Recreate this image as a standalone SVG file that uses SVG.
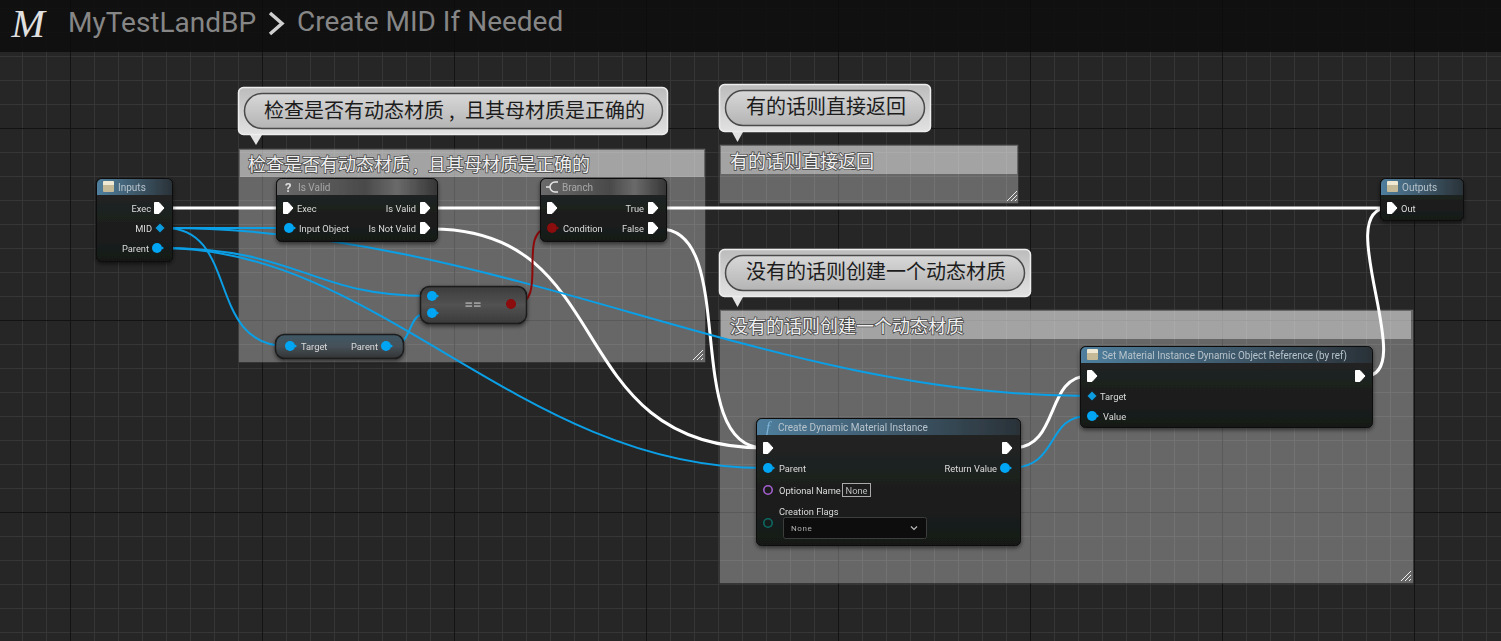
<svg xmlns="http://www.w3.org/2000/svg" width="1501" height="641" viewBox="0 0 1501 641">
<style>
text{font-family:"Roboto","Noto Sans CJK SC",sans-serif}
.t{font-size:9.3px;fill:#dcdcdc}
.e{text-anchor:end}
.h{font-size:10px;fill:#b8c4cc}
.g{font-size:10px;fill:#a8a8a8}
.body{fill:url(#nb);stroke:#0a0a0a;stroke-width:1}
.wb{fill:none;stroke:#0b9fe6;stroke-width:2}
.ww{fill:none;stroke:#fff;stroke-width:3}
.wr{fill:none;stroke:#8c0a0a;stroke-width:2}
.bub{fill:url(#bg);stroke:#ededed;stroke-width:1.5}
.tail{fill:#e2e2e2}
.pill{fill:url(#pg);stroke:#4a4a4a;stroke-width:1.5}
.bt{font-family:"Noto Sans CJK SC",sans-serif;font-size:20px;fill:#1c1c1c}
.ct{font-family:"Noto Sans CJK SC",sans-serif;font-size:18px;fill:#f0f0f0;paint-order:stroke;stroke:#444;stroke-width:1.5px}
.fr{fill:#fff;fill-opacity:.3;stroke:#1a1a1a;stroke-opacity:.35}
.fh{fill:#fff;fill-opacity:.4}
.grip{stroke:#eee;stroke-width:1;fill:none}
</style>
<defs>
<pattern id="gm" width="24" height="24" patternUnits="userSpaceOnUse" x="22" y="8"><path d="M.5 0V24M0 .5H24" stroke="#363636" stroke-width="1" fill="none"/></pattern>
<pattern id="gM" width="192" height="192" patternUnits="userSpaceOnUse" x="70" y="128"><path d="M.5 0V192M0 .5H192" stroke="#131313" stroke-width="1" fill="none"/></pattern>
<linearGradient id="nb" x1="0" y1="0" x2="0" y2="1"><stop offset="0" stop-color="#232625"/><stop offset="1" stop-color="#171918"/></linearGradient>
<linearGradient id="hb" x1="0" y1="0" x2="1" y2="0"><stop offset="0" stop-color="#4f7f9e"/><stop offset=".5" stop-color="#3f5a6c"/><stop offset="1" stop-color="#2a3238"/></linearGradient>
<linearGradient id="hg" x1="0" y1="0" x2="1" y2="0"><stop offset="0" stop-color="#6a6a6a"/><stop offset=".55" stop-color="#4a4a4a"/><stop offset=".75" stop-color="#6a6a6a"/><stop offset="1" stop-color="#363636"/></linearGradient>
<linearGradient id="bg" x1="0" y1="0" x2="0" y2="1"><stop offset="0" stop-color="#bcbcbc"/><stop offset="1" stop-color="#e2e2e2"/></linearGradient>
<linearGradient id="pg" x1="0" y1="0" x2="0" y2="1"><stop offset="0" stop-color="#d8d8d8"/><stop offset="1" stop-color="#b4b4b4"/></linearGradient>
<linearGradient id="cn" x1="0" y1="0" x2="0" y2="1"><stop offset="0" stop-color="#3c3c3c"/><stop offset=".5" stop-color="#525252"/><stop offset="1" stop-color="#3a3a3a"/></linearGradient>
<linearGradient id="tn" x1="0" y1="0" x2="0" y2="1"><stop offset="0" stop-color="#3f5866"/><stop offset=".5" stop-color="#465058"/><stop offset="1" stop-color="#333"/></linearGradient>
<linearGradient id="ic" x1="0" y1="0" x2="0" y2="1"><stop offset="0" stop-color="#efe9d4"/><stop offset=".35" stop-color="#efe9d4"/><stop offset=".36" stop-color="#c4ba98"/><stop offset="1" stop-color="#c4ba98"/></linearGradient>
<filter id="sh" x="-10%" y="-20%" width="120%" height="150%"><feDropShadow dx="0" dy="2" stdDeviation="2" flood-color="#000" flood-opacity=".55"/></filter>
<path id="x" d="M-4.5,-5.5h4.5l5,5.5l-5,5.5h-4.5z" fill="#fff" stroke="#fff" stroke-width="1" stroke-linejoin="round"/>
<g id="p"><circle r="5" fill="#00a6f4"/><path d="M5,-1.5l2,1.5l-2,1.500z" fill="#00a6f4"/></g>
<path id="d" d="M0,-4.5L4.5,0L0,4.5L-4.5,0z" fill="#0a9be0"/>
<rect id="i" width="11" height="11" rx="1" fill="url(#ic)"/>
</defs>

<g id="background">
<rect width="1501" height="641" fill="#262626"/>
<rect width="1501" height="641" fill="url(#gm)"/>
<rect width="1501" height="641" fill="url(#gM)"/>
</g>

<g id="title-bar">
<rect width="1501" height="52" fill="#0d0d0d" fill-opacity=".86"/>
<text x="11.500" y="37" style="font-family:'Liberation Serif',serif;font-style:italic;font-size:40px;fill:#e0e0e0">M</text>
<text x="68" y="32" style="font-size:28px;fill:#868686">MyTestLandBP</text>
<path d="M270,13L282,23.500L270,34" fill="none" stroke="#cfcfcf" stroke-width="3.500"/>
<text x="297" y="31" style="font-size:28px;fill:#868686">Create MID If Needed</text>
</g>

<g id="comment-1">
<rect class="fr" x="238.500" y="148.500" width="467" height="214"/>
<rect class="fh" x="240" y="150" width="464" height="27"/>
<text class="ct" y="171"><tspan x="248">检查是否有动态材质</tspan><tspan x="413">,</tspan><tspan x="428">且其母材质是正确的</tspan></text>
<path class="grip" d="M693,360L703,350M697,360L703,354M701,360L703,358"/>
<path class="tail" d="M250,135L256,145L262,135z"/>
<rect class="bub" x="238.500" y="87.500" width="429" height="47" rx="5"/>
<rect class="pill" x="244.500" y="93.500" width="418" height="35" rx="17.500"/>
<text class="bt" y="118"><tspan x="264">检查是否有动态材质</tspan><tspan x="449">,</tspan><tspan x="465">且其母材质是正确的</tspan></text>
</g>
<g id="comment-2">
<rect class="fr" x="719.500" y="144.500" width="299" height="59"/>
<rect class="fh" x="721" y="146" width="296" height="28"/>
<text class="ct" x="730" y="168">有的话则直接返回</text>
<path class="grip" d="M1007,201L1017,191M1011,201L1017,195M1015,201L1017,199"/>
<path class="tail" d="M732,132L737.500,142L743,132z"/>
<rect class="bub" x="719.500" y="84.500" width="211" height="47" rx="5"/>
<rect class="pill" x="725.500" y="90.500" width="199" height="35" rx="17.500"/>
<text class="bt" x="746" y="114">有的话则直接返回</text>
</g>
<g id="comment-3">
<rect class="fr" x="719.500" y="309.500" width="694" height="274"/>
<rect class="fh" x="721" y="311" width="690" height="28"/>
<text class="ct" x="730" y="333">没有的话则创建一个动态材质</text>
<path class="grip" d="M1401,581L1411,571M1405,581L1411,575M1409,581L1411,579"/>
<path class="tail" d="M732,297L737.500,307L743,297z"/>
<rect class="bub" x="719.500" y="249.500" width="311" height="47" rx="5"/>
<rect class="pill" x="725.500" y="255.500" width="299" height="35" rx="17.500"/>
<text class="bt" x="746" y="279">没有的话则创建一个动态材质</text>
</g>

<g id="connectors">
<path class="ww" d="M165,208H285"/>
<path class="ww" d="M432,208H548"/>
<path class="ww" d="M660,208H1388"/>
<path class="ww" d="M432,229C620,229 560,448 764,448"/>
<path class="ww" d="M660,229C740,229 680,448 764,448"/>
<path class="ww" d="M1013,448C1060,448 1045,376 1088,376"/>
<path class="ww" d="M1365,376C1420,376 1330,208 1388,208"/>
<path class="wb" d="M165,228H285"/>
<path class="wb" d="M165,228C240,228 205,346 287,346"/>
<path class="wb" d="M165,228C500,228 760,396 1088,396"/>
<path class="wb" d="M162,248C300,248 310,296 428,296"/>
<path class="wb" d="M162,248C380,248 520,468 764,468"/>
<path class="wb" d="M390,346C415,346 405,313 428,313"/>
<path class="wb" d="M1010,468C1060,468 1045,416 1088,416"/>
<path class="wr" d="M515,304C550,304 515,228 550,228"/>
</g>

<g id="node-inputs" filter="url(#sh)">
<rect class="body" x="96.500" y="178.500" width="76" height="83" rx="5"/>
<path d="M97,195V184a5,5 0 0 1 5,-5H167a5,5 0 0 1 5,5V195z" fill="url(#hb)"/>
<use href="#i" x="103" y="181"/>
<text class="h" x="118" y="191">Inputs</text>
<text class="t e" x="151" y="212">Exec</text><use href="#x" x="159" y="208"/>
<text class="t e" x="152" y="232">MID</text><use href="#d" x="160" y="228"/>
<text class="t e" x="149" y="252">Parent</text><use href="#p" x="157" y="248"/>
</g>

<g id="node-is-valid" filter="url(#sh)">
<rect class="body" x="276.500" y="178.500" width="161" height="63" rx="5"/>
<path d="M277,195V184a5,5 0 0 1 5,-5H432a5,5 0 0 1 5,5V195z" fill="url(#hg)"/>
<text x="285" y="192" style="font-size:13px;font-weight:700;fill:#ddd">?</text>
<text class="g" x="298" y="191">Is Valid</text>
<use href="#x" x="288" y="208"/><text class="t" x="297" y="212">Exec</text>
<text class="t e" x="416" y="212">Is Valid</text><use href="#x" x="425" y="208"/>
<use href="#p" x="289" y="228"/><text class="t" x="299" y="232">Input Object</text>
<text class="t e" x="416" y="232">Is Not Valid</text><use href="#x" x="425" y="228"/>
</g>

<g id="node-branch" filter="url(#sh)">
<rect class="body" x="540.500" y="178.500" width="126" height="63" rx="5"/>
<path d="M541,195V184a5,5 0 0 1 5,-5H661a5,5 0 0 1 5,5V195z" fill="url(#hg)"/>
<path d="M558,182H555a5,5 0 0 0 0,10H558M546,187H550" fill="none" stroke="#e8e8e8" stroke-width="1.500"/>
<text class="g" x="562" y="191">Branch</text>
<use href="#x" x="552" y="208"/>
<text class="t e" x="644" y="212">True</text><use href="#x" x="653" y="208"/>
<g transform="translate(552,228)"><circle r="5" fill="#8c0a0a"/><path d="M5,-1.500l2,1.500l-2,1.500z" fill="#8c0a0a"/></g>
<text class="t" x="563" y="232">Condition</text>
<text class="t e" x="644" y="232">False</text><use href="#x" x="653" y="228"/>
</g>

<g id="node-equal" filter="url(#sh)">
<rect x="420.500" y="286.500" width="106" height="37" rx="9" fill="url(#cn)" stroke="#1a1a1a" stroke-width="1.500"/>
<use href="#p" x="432" y="296"/><use href="#p" x="432" y="313"/>
<text x="473" y="309" text-anchor="middle" style="font-size:15px;font-weight:700;fill:#9a9a9a">==</text>
<g transform="translate(511,304)"><circle r="5" fill="#8c0a0a"/></g>
</g>

<g id="node-get-parent" filter="url(#sh)">
<rect x="275.500" y="334.500" width="128" height="24" rx="9" fill="url(#tn)" stroke="#1a1a1a" stroke-width="1.500"/>
<use href="#p" x="290" y="346"/><text class="t" x="301" y="350">Target</text>
<text class="t e" x="378" y="350">Parent</text><use href="#p" x="386" y="346"/>
</g>

<g id="node-create" filter="url(#sh)">
<rect class="body" x="756.500" y="418.500" width="264" height="127" rx="5"/>
<path d="M757,435V424a5,5 0 0 1 5,-5H1015a5,5 0 0 1 5,5V435z" fill="url(#hb)"/>
<text x="766" y="432" style="font-family:'Liberation Serif',serif;font-style:italic;font-size:15px;fill:#7fb4d8">f</text>
<text class="h" x="778" y="431">Create Dynamic Material Instance</text>
<use href="#x" x="768" y="448"/><use href="#x" x="1007" y="448"/>
<use href="#p" x="768" y="468"/><text class="t" x="779" y="472">Parent</text>
<text class="t e" x="997" y="472">Return Value</text><use href="#p" x="1005" y="468"/>
<circle cx="768" cy="490" r="4.200" fill="none" stroke="#a45fd0" stroke-width="1.600"/>
<text class="t" x="779" y="494">Optional Name</text>
<rect x="842.500" y="483.500" width="28" height="13" fill="none" stroke="#aaa"/>
<text class="t" x="856.500" y="494" text-anchor="middle" style="fill:#bbb">None</text>
<circle cx="768" cy="523" r="4.200" fill="none" stroke="#0b6a62" stroke-width="1.600"/>
<text class="t" x="779" y="515">Creation Flags</text>
<rect x="783.500" y="517.500" width="143" height="21" rx="2" fill="#0e0e0e" stroke="#3c3c3c"/>
<text x="791" y="531" style="font-size:8px;letter-spacing:.6px;fill:#b0b0b0">None</text>
<path d="M911,526.500l3,3l3,-3" fill="none" stroke="#bbb" stroke-width="1.200"/>
</g>

<g id="node-set-material" filter="url(#sh)">
<rect class="body" x="1080.500" y="346.500" width="292" height="81" rx="5"/>
<path d="M1081,363V352a5,5 0 0 1 5,-5H1367a5,5 0 0 1 5,5V363z" fill="url(#hb)"/>
<use href="#i" x="1087" y="349"/>
<text class="h" x="1102" y="359" textLength="245" lengthAdjust="spacingAndGlyphs">Set Material Instance Dynamic Object Reference (by ref)</text>
<use href="#x" x="1092" y="376"/><use href="#x" x="1360" y="376"/>
<use href="#d" x="1092" y="396"/><text class="t" x="1100" y="400">Target</text>
<use href="#p" x="1092" y="416"/><text class="t" x="1103" y="420">Value</text>
</g>

<g id="node-outputs" filter="url(#sh)">
<rect class="body" x="1380.500" y="178.500" width="83" height="42" rx="5"/>
<path d="M1381,195V184a5,5 0 0 1 5,-5H1458a5,5 0 0 1 5,5V195z" fill="url(#hb)"/>
<use href="#i" x="1387" y="181"/>
<text class="h" x="1402" y="191">Outputs</text>
<use href="#x" x="1392" y="208"/><text class="t" x="1401" y="212">Out</text>
</g>
</svg>
